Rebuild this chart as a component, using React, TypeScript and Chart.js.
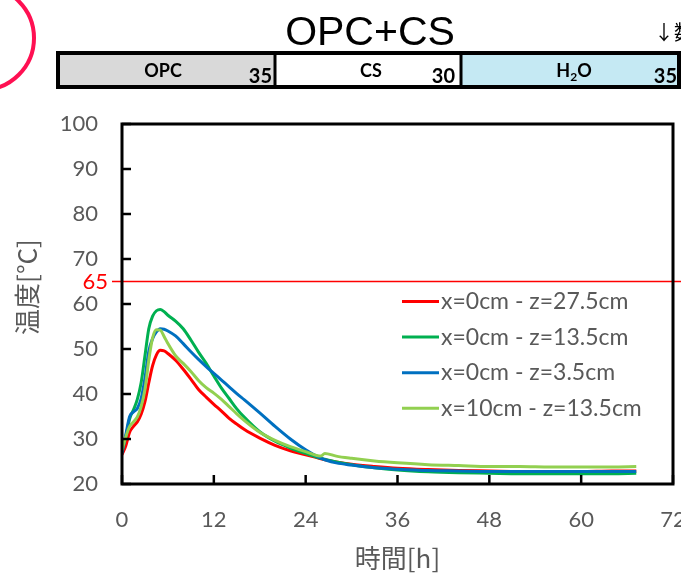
import React, { useEffect, useRef } from "react";
import { Chart, registerables } from "chart.js";

Chart.register(...registerables);

const times = [0, 0.5, 1, 1.5, 2, 2.5, 3, 3.5, 4, 4.5, 5, 5.5, 6, 7, 8, 9, 10, 11, 12, 13, 14, 15, 16, 18, 20, 22, 24, 26, 26.5, 28, 30, 33, 36, 40, 44, 48, 52, 56, 60, 64, 67.2];

const redValues = [26.5, 28.5, 31.5, 32.8, 33.8, 35.5, 38.3, 42.5, 46.3, 48.7, 49.7, 49.6, 49.0, 47.5, 45.5, 43.3, 41.0, 39.3, 37.7, 36.2, 34.6, 33.3, 32.1, 30.2, 28.6, 27.4, 26.5, 25.6, 25.4, 24.9, 24.4, 23.9, 23.5, 23.2, 23.0, 22.9, 22.8, 22.8, 22.8, 22.9, 22.9];
const greenValues = [27.3, 30.5, 34.5, 36.5, 38.8, 42.5, 48.5, 54.5, 57.3, 58.5, 58.8, 58.3, 57.5, 56.2, 54.5, 52.0, 49.3, 46.8, 44.0, 41.3, 39.0, 36.7, 34.8, 31.6, 29.5, 28.0, 26.8, 25.7, 25.5, 24.9, 24.3, 23.6, 23.1, 22.7, 22.5, 22.4, 22.3, 22.3, 22.3, 22.3, 22.4];
const blueValues = [26.8, 31.0, 35.0, 36.0, 36.8, 39.0, 43.5, 49.5, 52.3, 53.8, 54.5, 54.4, 54.0, 52.9, 51.2, 49.4, 47.7, 46.1, 44.6, 43.1, 41.6, 40.1, 38.7, 35.8, 32.8, 30.0, 27.6, 25.7, 25.4, 24.7, 24.2, 23.6, 23.3, 23.0, 22.9, 22.8, 22.8, 22.8, 22.8, 22.8, 22.8];
const lightGreenValues = [27.5, 30.5, 32.8, 33.8, 34.9, 37.2, 41.0, 47.5, 52.5, 54.3, 54.2, 52.8, 51.2, 48.5, 46.8, 45.0, 43.0, 41.4, 40.2, 38.8, 37.2, 35.6, 34.1, 31.5, 29.7, 28.3, 27.2, 26.2, 26.8, 26.2, 25.7, 25.1, 24.7, 24.3, 24.1, 23.9, 23.9, 23.8, 23.8, 23.8, 23.9];

const seriesLabels = ["x=0cm - z=27.5cm", "x=0cm - z=13.5cm", "x=0cm - z=3.5cm", "x=10cm - z=13.5cm"];
const seriesColors = ["#ff0000", "#00b050", "#0070c0", "#92d050"];
const seriesValues = [redValues, greenValues, blueValues, lightGreenValues];

const xTicks = [0, 12, 24, 36, 48, 60, 72];
const yTicks = [20, 30, 40, 50, 60, 70, 80, 90, 100];
const limitValue = 65;

const title = "OPC+CS";
const mixNames = ["OPC", "CS", "H2O"];
const mixRatios = [35, 30, 35];

const GREY = "#595959";
const LATIN = "Lato, 'Noto Sans', sans-serif";
const CJK = "'Noto Sans CJK JP', sans-serif";

const decorPlugin = {
  id: "decor",
  beforeDraw(chart: any) {
    const ctx = chart.ctx;
    ctx.save();
    // red circle arc
    ctx.strokeStyle = "#ff1052";
    ctx.lineWidth = 4;
    ctx.beginPath();
    ctx.arc(-18, 38, 52, 0, Math.PI * 2);
    ctx.stroke();

    // title
    ctx.fillStyle = "#000";
    ctx.font = "41px 'Liberation Sans', Arial, sans-serif";
    ctx.textAlign = "center";
    ctx.textBaseline = "alphabetic";
    ctx.fillText(title, 370, 45);

    // ↓数
    ctx.font = "20px " + CJK;
    ctx.textAlign = "left";
    ctx.fillText("↓数", 654, 40);

    // mix bar
    const segs = [
      [58, 275, "#d9d9d9"],
      [275, 461, "#ffffff"],
      [461, 679, "#c5e9f3"],
    ] as const;
    segs.forEach((s) => {
      ctx.fillStyle = s[2];
      ctx.fillRect(s[0], 53, s[1] - s[0], 34);
    });
    ctx.strokeStyle = "#000";
    ctx.lineWidth = 4;
    ctx.strokeRect(58, 53, 679 - 58, 34);
    ctx.lineWidth = 3;
    [275, 461].forEach((x) => {
      ctx.beginPath();
      ctx.moveTo(x, 53);
      ctx.lineTo(x, 87);
      ctx.stroke();
    });
    ctx.fillStyle = "#000";
    const centers = [163, 371, 574];
    const rights = [272, 455, 677];
    const nameFont = "bold 18px " + LATIN;
    const subFont = "bold 12px " + LATIN;
    mixNames.forEach((name, i) => {
      ctx.font = nameFont;
      ctx.textAlign = "center";
      if (name === "H2O") {
        const wH = ctx.measureText("H").width;
        ctx.font = subFont;
        const w2 = ctx.measureText("2").width;
        ctx.font = nameFont;
        const wO = ctx.measureText("O").width;
        const total = wH + w2 + wO;
        let x = centers[i] - total / 2;
        ctx.textAlign = "left";
        ctx.fillText("H", x, 77);
        x += wH;
        ctx.font = subFont;
        ctx.fillText("2", x, 81);
        x += w2;
        ctx.font = nameFont;
        ctx.fillText("O", x, 77);
      } else {
        ctx.fillText(name, centers[i], 77);
      }
      ctx.font = "bold 20px " + LATIN;
      ctx.textAlign = "right";
      ctx.fillText(String(mixRatios[i]), rights[i], 83);
    });
    ctx.restore();
  },
  afterDraw(chart: any) {
    const ctx = chart.ctx;
    const { left, right, top, bottom } = chart.chartArea;
    const xs = chart.scales.x;
    const ys = chart.scales.y;
    ctx.save();
    // limit line
    const yl = ys.getPixelForValue(limitValue);
    ctx.strokeStyle = "#ff0000";
    ctx.lineWidth = 1.5;
    ctx.beginPath();
    ctx.moveTo(112, yl);
    ctx.lineTo(chart.width, yl);
    ctx.stroke();
    ctx.fillStyle = "#ff0000";
    ctx.font = "22px " + LATIN;
    ctx.textAlign = "right";
    ctx.textBaseline = "middle";
    ctx.fillText(String(limitValue), 108, yl);

    // frame
    ctx.strokeStyle = "#000";
    ctx.lineWidth = 3;
    ctx.strokeRect(left, top, right - left, bottom - top);
    // inward ticks
    ctx.lineWidth = 2.5;
    yTicks.forEach((v) => {
      const y = ys.getPixelForValue(v);
      ctx.beginPath();
      ctx.moveTo(left, y);
      ctx.lineTo(left + 9, y);
      ctx.stroke();
    });
    xTicks.forEach((v) => {
      const x = xs.getPixelForValue(v);
      ctx.beginPath();
      ctx.moveTo(x, bottom);
      ctx.lineTo(x, bottom - 9);
      ctx.stroke();
    });

    // legend
    ctx.font = "23px " + LATIN;
    ctx.textAlign = "left";
    ctx.textBaseline = "middle";
    chart.data.datasets.forEach((ds: any, i: number) => {
      const y = 301.5 + i * 35.6;
      ctx.strokeStyle = ds.borderColor;
      ctx.lineWidth = 3;
      ctx.beginPath();
      ctx.moveTo(402, y);
      ctx.lineTo(439, y);
      ctx.stroke();
      ctx.fillStyle = GREY;
      ctx.fillText(ds.label, 441, y);
    });

    // axis titles
    ctx.fillStyle = GREY;
    ctx.font = "26px " + CJK;
    ctx.textAlign = "center";
    ctx.textBaseline = "middle";
    ctx.fillText("時間[h]", (left + right) / 2, 558);
    ctx.translate(27, 287);
    ctx.rotate(-Math.PI / 2);
    ctx.fillText("温度[°C]", 0, 0);
    ctx.restore();
  },
};

export default function App() {
  const ref = useRef<HTMLCanvasElement>(null);
  useEffect(() => {
    const prevMargin = document.body.style.margin;
    document.body.style.margin = "0";
    const canvas = ref.current!;
    const chart = new Chart(canvas, {
      type: "line",
      data: {
        datasets: seriesValues.map((vals, i) => ({
          label: seriesLabels[i],
          data: times.map((t, j) => ({ x: t, y: vals[j] })),
          borderColor: seriesColors[i],
          backgroundColor: seriesColors[i],
          borderWidth: 3,
          pointRadius: 0,
          cubicInterpolationMode: "monotone" as const,
          order: 4 - i,
        })),
      },
      options: {
        animation: false,
        responsive: false,
        devicePixelRatio: 1,
        layout: { padding: { top: 124, right: 8, left: 0, bottom: 0 } },
        plugins: { legend: { display: false }, tooltip: { enabled: false } },
        scales: {
          x: {
            type: "linear",
            min: 0,
            max: 72,
            grid: { display: false, drawTicks: false },
            border: { display: false },
            afterBuildTicks: (s: any) => {
              s.ticks = xTicks.map((v) => ({ value: v }));
            },
            ticks: {
              color: GREY,
              font: { family: LATIN, size: 22 },
              padding: 23,
              maxRotation: 0,
              autoSkip: false,
            },
            afterFit: (s: any) => {
              s.height = 90;
              s.paddingLeft = 0;
              s.paddingRight = 0;
            },
          },
          y: {
            min: 20,
            max: 100,
            grid: { display: false, drawTicks: false },
            border: { display: false },
            afterBuildTicks: (s: any) => {
              s.ticks = yTicks.map((v) => ({ value: v }));
            },
            ticks: {
              color: GREY,
              font: { family: LATIN, size: 22 },
              padding: 24,
              autoSkip: false,
            },
            afterFit: (s: any) => {
              s.width = 122;
              s.paddingTop = 0;
              s.paddingBottom = 0;
            },
          },
        },
      },
      plugins: [decorPlugin],
    });
    return () => {
      chart.destroy();
      document.body.style.margin = prevMargin;
    };
  }, []);
  return (
    <div style={{ position: "absolute", left: 0, top: 0, width: 681, height: 574, background: "#fff" }}>
      <canvas ref={ref} width={681} height={574} />
    </div>
  );
}
